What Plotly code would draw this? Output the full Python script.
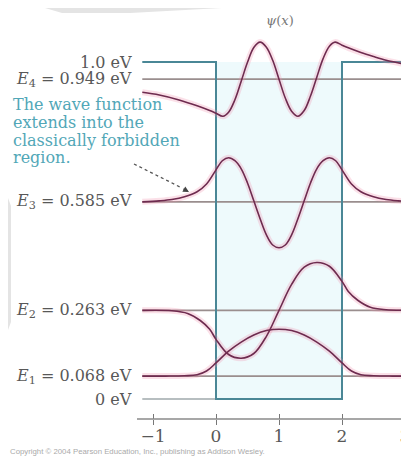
import plotly.graph_objects as go

# screenshot size and the page's default 8px body margin
SCREEN_W, SCREEN_H = 409, 457
OFF = 8
W, H = SCREEN_W - OFF, SCREEN_H - OFF

# pixel calibration of the reference picture (used only for placing text/decoration)
X0_PX, X_PX_PER = 216, 63
Y0_PX, Y_PX_PER = 399, 337


def px_x(px):
    return (px - X0_PX) / X_PX_PER


def px_y(py):
    return (Y0_PX - py) / Y_PX_PER


# ---------------- data ----------------
U0 = 1.0
well_edges = [0.0, 2.0]
x_start, x_end = -1.17, 3.07

level_values = [0.068, 0.263, 0.585, 0.949]
level_labels = ["<i>E</i><sub>1</sub> = 0.068 eV", "<i>E</i><sub>2</sub> = 0.263 eV",
                "<i>E</i><sub>3</sub> = 0.585 eV", "<i>E</i><sub>4</sub> = 0.949 eV"]
top_label = "1.0 eV"
zero_label = "0 eV"

tick_vals = [-1, 0, 1, 2, 3]
tick_text = ["\u22121", "0", "1", "2", "3"]

x1 = [-1.17, -0.8, -0.5, -0.3, -0.15, 0.0, 0.2, 0.4, 0.6, 0.8, 1.0, 1.2, 1.4, 1.6, 1.8, 2.0, 2.15, 2.3, 2.5, 2.8, 3.07]
y1 = [0.068, 0.068, 0.069, 0.072, 0.083, 0.107, 0.142, 0.169, 0.190, 0.203, 0.207, 0.203, 0.190, 0.169, 0.142, 0.107, 0.083, 0.072, 0.069, 0.068, 0.068]

x2 = [-1.17, -0.7, -0.45, -0.25, -0.1, 0.0, 0.2, 0.4, 0.6, 0.8, 1.0, 1.2, 1.4, 1.6, 1.8, 2.0, 2.1, 2.25, 2.45, 2.7, 3.07]
y2 = [0.263, 0.262, 0.254, 0.233, 0.207, 0.177, 0.132, 0.121, 0.135, 0.186, 0.263, 0.340, 0.391, 0.405, 0.394, 0.349, 0.319, 0.293, 0.272, 0.265, 0.263]

x3 = [-1.17, -0.9, -0.7, -0.5, -0.3, -0.15, 0.0, 0.1, 0.2, 0.3, 0.4, 0.5, 0.6, 0.7, 0.8, 0.9, 1.0,
      1.1, 1.2, 1.3, 1.4, 1.5, 1.6, 1.7, 1.8, 1.9, 2.0, 2.15, 2.3, 2.5, 2.7, 2.9, 3.07]
y3 = [0.585, 0.588, 0.592, 0.600, 0.615, 0.638, 0.680, 0.707, 0.716, 0.707, 0.683, 0.641, 0.588, 0.535, 0.487, 0.457, 0.449,
      0.457, 0.487, 0.535, 0.588, 0.641, 0.683, 0.707, 0.716, 0.707, 0.680, 0.638, 0.615, 0.600, 0.592, 0.588, 0.586]

x4 = [-1.17, -0.9, -0.6, -0.3, -0.1, 0.0, 0.11, 0.2, 0.3, 0.4, 0.5, 0.6, 0.7, 0.8, 0.9, 1.0,
      1.1, 1.2, 1.3, 1.4, 1.5, 1.6, 1.7, 1.8, 1.89, 2.0, 2.1, 2.3, 2.5, 2.7, 2.9, 3.07]
y4 = [0.910, 0.902, 0.888, 0.870, 0.856, 0.848, 0.839, 0.851, 0.888, 0.943, 0.999, 1.043, 1.059, 1.044, 1.005, 0.949,
      0.893, 0.854, 0.839, 0.856, 0.899, 0.955, 1.010, 1.047, 1.059, 1.050, 1.042, 1.028, 1.016, 1.005, 0.997, 0.991]

psi_x = [x1, x2, x3, x4]
psi_y = [y1, y2, y3, y4]

note_lines = ["The wave function", "extends into the", "classically forbidden", "region."]

# ---------------- styles ----------------
SERIF = "DejaVu Serif, serif"
LABEL_COLOR = "#585858"
TEAL_TEXT = "#52a7b7"
LEVEL_COLOR = "#9a8e8e"
WELL_COLOR = "#4a8796"
PSI_COLOR = "#6e2b4f"
PSI_GLOW = "rgba(240,140,170,0.27)"

fig = go.Figure()

# faint tint inside the well
fig.add_shape(type="rect", xref="x", yref="y", x0=well_edges[0], x1=well_edges[1], y0=0, y1=U0,
              fillcolor="#eefafc", line_width=0, layer="below")


# watermark remnants
def path_px(points):
    return "M " + " L ".join(f"{px_x(a):.4f},{px_y(b):.4f}" for a, b in points) + " Z"


fig.add_shape(type="path", xref="x", yref="y", path=path_px([(45, 8), (222, 8), (130, 13), (62, 13)]),
              fillcolor="#e4e4e4", line_width=0, layer="below")
fig.add_shape(type="path", xref="x", yref="y", path=path_px([(8, 198), (11, 206), (11, 322), (8, 330)]),
              fillcolor="#e4e4e4", line_width=0, layer="below")

# energy level lines
for E in level_values:
    fig.add_trace(go.Scatter(x=[x_start, x_end], y=[E, E], mode="lines",
                             line=dict(color=LEVEL_COLOR, width=1.7), hoverinfo="skip"))
fig.add_trace(go.Scatter(x=[x_start, well_edges[0]], y=[0, 0], mode="lines",
                         line=dict(color="#9fa9ab", width=1.7), hoverinfo="skip"))

# potential well
fig.add_trace(go.Scatter(x=[x_start, well_edges[0], well_edges[0], well_edges[1], well_edges[1], x_end],
                         y=[U0, U0, 0, 0, U0, U0], mode="lines",
                         line=dict(color=WELL_COLOR, width=2), hoverinfo="skip"))

# wave functions
for xs, ys in zip(psi_x, psi_y):
    fig.add_trace(go.Scatter(x=xs, y=ys, mode="lines",
                             line=dict(color=PSI_GLOW, width=6, shape="spline", smoothing=1.0),
                             hoverinfo="skip"))
for xs, ys in zip(psi_x, psi_y):
    fig.add_trace(go.Scatter(x=xs, y=ys, mode="lines",
                             line=dict(color=PSI_COLOR, width=1.6, shape="spline", smoothing=1.0),
                             hoverinfo="skip"))

# dummy trace to activate the second (inside-ticks) x axis
fig.add_trace(go.Scatter(x=[0], y=[0], xaxis="x2", mode="markers", marker=dict(opacity=0), hoverinfo="skip"))

# axis baseline
fig.add_shape(type="line", xref="x", yref="y", x0=px_x(137), x1=px_x(SCREEN_W), y0=px_y(419), y1=px_y(419),
              line=dict(color="#8a8a8a", width=1.5))

ann = []
label_x = px_x(134)
for E, txt in zip(level_values, level_labels):
    ann.append(dict(x=label_x, y=E, text=txt, xanchor="right", yanchor="middle", showarrow=False,
                    font=dict(family=SERIF, size=16, color=LABEL_COLOR)))
ann.append(dict(x=label_x, y=U0, text=top_label, xanchor="right", yanchor="middle", showarrow=False,
                font=dict(family=SERIF, size=16, color=LABEL_COLOR)))
ann.append(dict(x=label_x, y=0, text=zero_label, xanchor="right", yanchor="middle", showarrow=False,
                font=dict(family=SERIF, size=16, color=LABEL_COLOR)))

for line_txt, py in zip(note_lines, [104, 122, 140, 157]):
    ann.append(dict(x=px_x(11), y=px_y(py), text=line_txt, xanchor="left", yanchor="middle", showarrow=False,
                    font=dict(family=SERIF, size=16, color=TEAL_TEXT)))

# arrowhead
ann.append(dict(x=px_x(189), y=px_y(192), ax=-7, ay=-4, text="", showarrow=True, arrowhead=2,
                arrowsize=1, arrowwidth=1.2, arrowcolor="#444"))

ann.append(dict(x=px_x(280), y=px_y(20), text="<i>\u03c8</i>(<i>x</i>)", showarrow=False,
                font=dict(family=SERIF, size=13, color="#777777")))

ann.append(dict(xref="paper", yref="y", x=0.0, y=px_y(451),
                text="Copyright \u00a9 2004 Pearson Education, Inc., publishing as Addison Wesley.",
                xanchor="left", yanchor="middle", showarrow=False,
                font=dict(family="Liberation Sans, Arial, sans-serif", size=7.8, color="#aaaaaa")))

# dotted arrow shaft
fig.add_shape(type="line", xref="x", yref="y", x0=px_x(134), y0=px_y(164), x1=px_x(182), y1=px_y(188),
              line=dict(color="#555555", width=1.3, dash="dot"))

xrange = [px_x(OFF), px_x(SCREEN_W)]
axis_pos = (SCREEN_H - 419) / H

fig.update_layout(
    width=W, height=H, margin=dict(l=0, r=0, t=0, b=0),
    paper_bgcolor="white", plot_bgcolor="white", showlegend=False,
    annotations=ann,
    xaxis=dict(range=xrange, showgrid=False, zeroline=False, showline=False,
               tickmode="array", tickvals=tick_vals, ticktext=tick_text,
               ticks="outside", ticklen=5, tickwidth=1, tickcolor="#777777",
               tickfont=dict(family=SERIF, size=17, color=LABEL_COLOR),
               ticklabeloverflow="allow", ticklabelstandoff=-3,
               anchor="free", position=axis_pos, fixedrange=True),
    xaxis2=dict(range=xrange, overlaying="x", showgrid=False, zeroline=False, showline=False,
                tickmode="array", tickvals=tick_vals, showticklabels=False,
                ticks="inside", ticklen=5, tickwidth=1, tickcolor="#777777",
                anchor="free", position=axis_pos, fixedrange=True),
    yaxis=dict(range=[px_y(SCREEN_H), px_y(OFF)], visible=False, fixedrange=True),
)

fig.write_html("out.html", post_script="document.body.style.overflow='hidden';")
